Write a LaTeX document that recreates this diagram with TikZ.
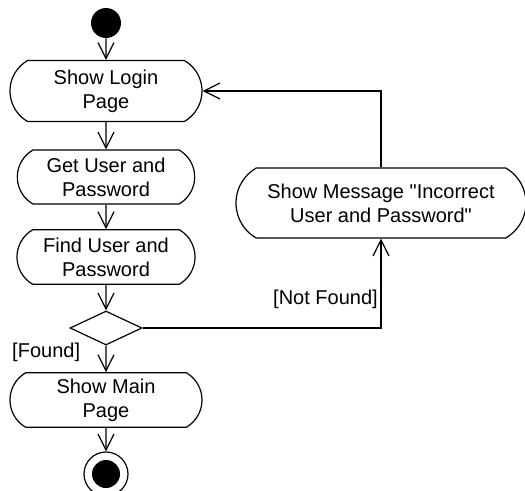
\documentclass[tikz,border=0pt]{standalone}
\usepackage{fontspec}
\setmainfont{Liberation Sans}
\usetikzlibrary{shapes.misc,shapes.geometric,arrows.meta}

\begin{document}
\begin{tikzpicture}[x=0.75pt,y=0.75pt,yscale=-1,xscale=1,
  act/.style={draw, line width=0.9pt, rounded rectangle, rounded rectangle arc length=120, inner sep=0pt, align=center, font=\fontsize{15}{18}\selectfont},
  flow/.style={draw, line width=0.9pt, -{Straight Barb[length=12pt,width=12pt,line width=0.9pt]}},
  lbl/.style={font=\fontsize{15}{18}\selectfont, inner sep=2pt}]
\useasboundingbox (0,0) rectangle (525,490);

%Shape: Initial state
\node (start) at (106,23) [circle, fill=black, minimum size=22.5pt, inner sep=0pt] {};
%Shape: Activities
\node (login) at (106,91) [act, minimum width=144pt, minimum height=45.75pt] {Show Login\\Page};
\node (getuser) at (106,177) [act, minimum width=133pt, minimum height=40.5pt] {Get User and\\Password};
\node (finduser) at (106,257) [act, minimum width=133.5pt, minimum height=41pt] {Find User and\\Password};
%Shape: Decision
\node (check) at (106,328) [diamond, draw, line width=0.9pt, inner sep=0pt, minimum width=54pt, minimum height=25.5pt, aspect=2.1] {};
\node (mainpage) at (106,400) [act, minimum width=144pt, minimum height=41pt] {Show Main\\Page};
\node (message) at (381,203) [act, minimum width=217.5pt, minimum height=52.5pt] {Show Message \textquotedbl Incorrect\\User and Password\textquotedbl};
%Shape: Final state
\node (stop) at (106,474) [circle, draw, line width=0.9pt, minimum size=33pt, inner sep=0pt,
  path picture={\fill (path picture bounding box.center) circle (10.5pt);}] {};

% Transitions
\draw [flow] (start) -- (login);
\draw [flow] (login) -- (getuser);
\draw [flow] (getuser) -- (finduser);
\draw [flow] (finduser) -- (check);
\draw [flow] (check) -- node [lbl, pos=0.25, left=17pt] {[Found]} (mainpage);
\draw [flow] (mainpage) -- (stop);
\draw [flow] (check.east) -| node [lbl, pos=0.66, left] {[Not Found]} (message.south);
\draw [flow] (message.north) |- (login.east);

\end{tikzpicture}
\end{document}
